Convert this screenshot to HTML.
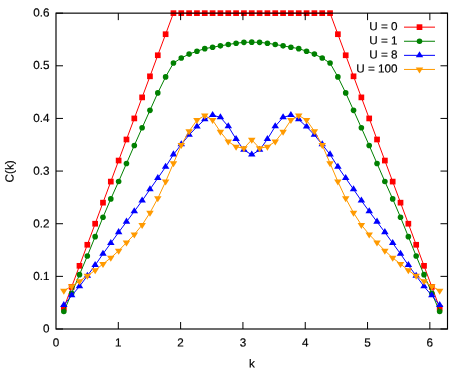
<!DOCTYPE html>
<html><head><meta charset="utf-8"><title>C(k)</title>
<style>html,body{margin:0;padding:0;background:#fff}body{width:467px;height:374px;overflow:hidden}</style>
</head><body>
<svg width="467" height="374" viewBox="0 0 467 374" style="display:block;font-family:'Liberation Sans',sans-serif">
<defs><filter id="b" x="0" y="0" width="467" height="374" filterUnits="userSpaceOnUse"><feGaussianBlur stdDeviation="0.3"/></filter></defs>
<rect width="467" height="374" fill="#fff"/>
<g filter="url(#b)">
<rect width="467" height="374" fill="#fff"/>
<polyline fill="none" stroke="#ff0000" stroke-width="1.0" points="63.83,307.94 71.66,286.89 79.49,265.83 87.32,244.77 95.15,223.72 102.98,202.66 110.81,181.60 118.64,160.55 126.47,139.49 134.30,118.43 142.13,97.38 149.96,76.32 157.79,55.26 165.62,34.21 173.45,13.15 181.28,13.15 189.11,13.15 196.94,13.15 204.77,13.15 212.60,13.15 220.43,13.15 228.26,13.15 236.09,13.15 243.92,13.15 251.75,13.15 259.58,13.15 267.41,13.15 275.24,13.15 283.07,13.15 290.90,13.15 298.73,13.15 306.56,13.15 314.39,13.15 322.22,13.15 330.05,13.15 337.88,34.21 345.71,55.26 353.54,76.32 361.37,97.38 369.20,118.43 377.03,139.49 384.86,160.55 392.69,181.60 400.52,202.66 408.35,223.72 416.18,244.77 424.01,265.83 431.84,286.89 439.67,307.94"/>
<g><rect x="60.98" y="305.09" width="5.70" height="5.70" fill="#ff0000"/><rect x="68.81" y="284.04" width="5.70" height="5.70" fill="#ff0000"/><rect x="76.64" y="262.98" width="5.70" height="5.70" fill="#ff0000"/><rect x="84.47" y="241.92" width="5.70" height="5.70" fill="#ff0000"/><rect x="92.30" y="220.87" width="5.70" height="5.70" fill="#ff0000"/><rect x="100.13" y="199.81" width="5.70" height="5.70" fill="#ff0000"/><rect x="107.96" y="178.75" width="5.70" height="5.70" fill="#ff0000"/><rect x="115.79" y="157.70" width="5.70" height="5.70" fill="#ff0000"/><rect x="123.62" y="136.64" width="5.70" height="5.70" fill="#ff0000"/><rect x="131.45" y="115.58" width="5.70" height="5.70" fill="#ff0000"/><rect x="139.28" y="94.53" width="5.70" height="5.70" fill="#ff0000"/><rect x="147.11" y="73.47" width="5.70" height="5.70" fill="#ff0000"/><rect x="154.94" y="52.41" width="5.70" height="5.70" fill="#ff0000"/><rect x="162.77" y="31.36" width="5.70" height="5.70" fill="#ff0000"/><rect x="170.60" y="10.30" width="5.70" height="5.70" fill="#ff0000"/><rect x="178.43" y="10.30" width="5.70" height="5.70" fill="#ff0000"/><rect x="186.26" y="10.30" width="5.70" height="5.70" fill="#ff0000"/><rect x="194.09" y="10.30" width="5.70" height="5.70" fill="#ff0000"/><rect x="201.92" y="10.30" width="5.70" height="5.70" fill="#ff0000"/><rect x="209.75" y="10.30" width="5.70" height="5.70" fill="#ff0000"/><rect x="217.58" y="10.30" width="5.70" height="5.70" fill="#ff0000"/><rect x="225.41" y="10.30" width="5.70" height="5.70" fill="#ff0000"/><rect x="233.24" y="10.30" width="5.70" height="5.70" fill="#ff0000"/><rect x="241.07" y="10.30" width="5.70" height="5.70" fill="#ff0000"/><rect x="248.90" y="10.30" width="5.70" height="5.70" fill="#ff0000"/><rect x="256.73" y="10.30" width="5.70" height="5.70" fill="#ff0000"/><rect x="264.56" y="10.30" width="5.70" height="5.70" fill="#ff0000"/><rect x="272.39" y="10.30" width="5.70" height="5.70" fill="#ff0000"/><rect x="280.22" y="10.30" width="5.70" height="5.70" fill="#ff0000"/><rect x="288.05" y="10.30" width="5.70" height="5.70" fill="#ff0000"/><rect x="295.88" y="10.30" width="5.70" height="5.70" fill="#ff0000"/><rect x="303.71" y="10.30" width="5.70" height="5.70" fill="#ff0000"/><rect x="311.54" y="10.30" width="5.70" height="5.70" fill="#ff0000"/><rect x="319.37" y="10.30" width="5.70" height="5.70" fill="#ff0000"/><rect x="327.20" y="10.30" width="5.70" height="5.70" fill="#ff0000"/><rect x="335.03" y="31.36" width="5.70" height="5.70" fill="#ff0000"/><rect x="342.86" y="52.41" width="5.70" height="5.70" fill="#ff0000"/><rect x="350.69" y="73.47" width="5.70" height="5.70" fill="#ff0000"/><rect x="358.52" y="94.53" width="5.70" height="5.70" fill="#ff0000"/><rect x="366.35" y="115.58" width="5.70" height="5.70" fill="#ff0000"/><rect x="374.18" y="136.64" width="5.70" height="5.70" fill="#ff0000"/><rect x="382.01" y="157.70" width="5.70" height="5.70" fill="#ff0000"/><rect x="389.84" y="178.75" width="5.70" height="5.70" fill="#ff0000"/><rect x="397.67" y="199.81" width="5.70" height="5.70" fill="#ff0000"/><rect x="405.50" y="220.87" width="5.70" height="5.70" fill="#ff0000"/><rect x="413.33" y="241.92" width="5.70" height="5.70" fill="#ff0000"/><rect x="421.16" y="262.98" width="5.70" height="5.70" fill="#ff0000"/><rect x="428.99" y="284.04" width="5.70" height="5.70" fill="#ff0000"/><rect x="436.82" y="305.09" width="5.70" height="5.70" fill="#ff0000"/></g>
<polyline fill="none" stroke="#008000" stroke-width="1.0" points="63.83,311.52 71.66,293.20 79.49,274.67 87.32,256.04 95.15,236.67 102.98,217.29 110.81,198.92 118.64,181.50 126.47,163.49 134.30,145.44 142.13,127.80 149.96,110.33 157.79,92.90 165.62,76.90 173.45,63.05 181.28,58.05 189.11,54.11 196.94,51.21 204.77,48.63 212.60,47.26 220.43,45.84 228.26,44.52 236.09,43.21 243.92,42.37 251.75,42.16 259.58,42.37 267.41,43.21 275.24,44.52 283.07,45.84 290.90,47.26 298.73,48.63 306.56,51.21 314.39,54.11 322.22,58.05 330.05,63.05 337.88,76.90 345.71,92.90 353.54,110.33 361.37,127.80 369.20,145.44 377.03,163.49 384.86,181.50 392.69,198.92 400.52,217.29 408.35,236.67 416.18,256.04 424.01,274.67 431.84,293.20 439.67,311.52"/>
<g><circle cx="63.83" cy="311.52" r="2.8" fill="#008000"/><circle cx="71.66" cy="293.20" r="2.8" fill="#008000"/><circle cx="79.49" cy="274.67" r="2.8" fill="#008000"/><circle cx="87.32" cy="256.04" r="2.8" fill="#008000"/><circle cx="95.15" cy="236.67" r="2.8" fill="#008000"/><circle cx="102.98" cy="217.29" r="2.8" fill="#008000"/><circle cx="110.81" cy="198.92" r="2.8" fill="#008000"/><circle cx="118.64" cy="181.50" r="2.8" fill="#008000"/><circle cx="126.47" cy="163.49" r="2.8" fill="#008000"/><circle cx="134.30" cy="145.44" r="2.8" fill="#008000"/><circle cx="142.13" cy="127.80" r="2.8" fill="#008000"/><circle cx="149.96" cy="110.33" r="2.8" fill="#008000"/><circle cx="157.79" cy="92.90" r="2.8" fill="#008000"/><circle cx="165.62" cy="76.90" r="2.8" fill="#008000"/><circle cx="173.45" cy="63.05" r="2.8" fill="#008000"/><circle cx="181.28" cy="58.05" r="2.8" fill="#008000"/><circle cx="189.11" cy="54.11" r="2.8" fill="#008000"/><circle cx="196.94" cy="51.21" r="2.8" fill="#008000"/><circle cx="204.77" cy="48.63" r="2.8" fill="#008000"/><circle cx="212.60" cy="47.26" r="2.8" fill="#008000"/><circle cx="220.43" cy="45.84" r="2.8" fill="#008000"/><circle cx="228.26" cy="44.52" r="2.8" fill="#008000"/><circle cx="236.09" cy="43.21" r="2.8" fill="#008000"/><circle cx="243.92" cy="42.37" r="2.8" fill="#008000"/><circle cx="251.75" cy="42.16" r="2.8" fill="#008000"/><circle cx="259.58" cy="42.37" r="2.8" fill="#008000"/><circle cx="267.41" cy="43.21" r="2.8" fill="#008000"/><circle cx="275.24" cy="44.52" r="2.8" fill="#008000"/><circle cx="283.07" cy="45.84" r="2.8" fill="#008000"/><circle cx="290.90" cy="47.26" r="2.8" fill="#008000"/><circle cx="298.73" cy="48.63" r="2.8" fill="#008000"/><circle cx="306.56" cy="51.21" r="2.8" fill="#008000"/><circle cx="314.39" cy="54.11" r="2.8" fill="#008000"/><circle cx="322.22" cy="58.05" r="2.8" fill="#008000"/><circle cx="330.05" cy="63.05" r="2.8" fill="#008000"/><circle cx="337.88" cy="76.90" r="2.8" fill="#008000"/><circle cx="345.71" cy="92.90" r="2.8" fill="#008000"/><circle cx="353.54" cy="110.33" r="2.8" fill="#008000"/><circle cx="361.37" cy="127.80" r="2.8" fill="#008000"/><circle cx="369.20" cy="145.44" r="2.8" fill="#008000"/><circle cx="377.03" cy="163.49" r="2.8" fill="#008000"/><circle cx="384.86" cy="181.50" r="2.8" fill="#008000"/><circle cx="392.69" cy="198.92" r="2.8" fill="#008000"/><circle cx="400.52" cy="217.29" r="2.8" fill="#008000"/><circle cx="408.35" cy="236.67" r="2.8" fill="#008000"/><circle cx="416.18" cy="256.04" r="2.8" fill="#008000"/><circle cx="424.01" cy="274.67" r="2.8" fill="#008000"/><circle cx="431.84" cy="293.20" r="2.8" fill="#008000"/><circle cx="439.67" cy="311.52" r="2.8" fill="#008000"/></g>
<polyline fill="none" stroke="#0000ff" stroke-width="1.0" points="63.83,305.10 71.66,295.52 79.49,286.41 87.32,275.83 95.15,265.20 102.98,253.88 110.81,243.14 118.64,232.30 126.47,221.82 134.30,211.35 142.13,200.71 149.96,189.34 157.79,178.18 165.62,166.86 173.45,154.55 181.28,144.49 189.11,134.91 196.94,126.75 204.77,119.49 212.60,115.17 220.43,117.38 228.26,126.33 236.09,139.12 243.92,150.02 251.75,154.76 259.58,150.02 267.41,139.12 275.24,126.33 283.07,117.38 290.90,115.17 298.73,119.49 306.56,126.75 314.39,134.91 322.22,144.49 330.05,154.55 337.88,166.86 345.71,178.18 353.54,189.34 361.37,200.71 369.20,211.35 377.03,221.82 384.86,232.30 392.69,243.14 400.52,253.88 408.35,265.20 416.18,275.83 424.01,286.41 431.84,295.52 439.67,305.10"/>
<g><path d="M60.08 306.95L67.58 306.95L63.83 300.90Z" fill="#0000ff"/><path d="M67.91 297.37L75.41 297.37L71.66 291.32Z" fill="#0000ff"/><path d="M75.74 288.26L83.24 288.26L79.49 282.21Z" fill="#0000ff"/><path d="M83.57 277.68L91.07 277.68L87.32 271.63Z" fill="#0000ff"/><path d="M91.40 267.05L98.90 267.05L95.15 261.00Z" fill="#0000ff"/><path d="M99.23 255.73L106.73 255.73L102.98 249.68Z" fill="#0000ff"/><path d="M107.06 244.99L114.56 244.99L110.81 238.94Z" fill="#0000ff"/><path d="M114.89 234.15L122.39 234.15L118.64 228.10Z" fill="#0000ff"/><path d="M122.72 223.67L130.22 223.67L126.47 217.62Z" fill="#0000ff"/><path d="M130.55 213.20L138.05 213.20L134.30 207.15Z" fill="#0000ff"/><path d="M138.38 202.56L145.88 202.56L142.13 196.51Z" fill="#0000ff"/><path d="M146.21 191.19L153.71 191.19L149.96 185.14Z" fill="#0000ff"/><path d="M154.04 180.03L161.54 180.03L157.79 173.98Z" fill="#0000ff"/><path d="M161.87 168.71L169.37 168.71L165.62 162.66Z" fill="#0000ff"/><path d="M169.70 156.40L177.20 156.40L173.45 150.35Z" fill="#0000ff"/><path d="M177.53 146.34L185.03 146.34L181.28 140.29Z" fill="#0000ff"/><path d="M185.36 136.76L192.86 136.76L189.11 130.71Z" fill="#0000ff"/><path d="M193.19 128.60L200.69 128.60L196.94 122.55Z" fill="#0000ff"/><path d="M201.02 121.34L208.52 121.34L204.77 115.29Z" fill="#0000ff"/><path d="M208.85 117.02L216.35 117.02L212.60 110.97Z" fill="#0000ff"/><path d="M216.68 119.23L224.18 119.23L220.43 113.18Z" fill="#0000ff"/><path d="M224.51 128.18L232.01 128.18L228.26 122.13Z" fill="#0000ff"/><path d="M232.34 140.97L239.84 140.97L236.09 134.92Z" fill="#0000ff"/><path d="M240.17 151.87L247.67 151.87L243.92 145.82Z" fill="#0000ff"/><path d="M248.00 156.61L255.50 156.61L251.75 150.56Z" fill="#0000ff"/><path d="M255.83 151.87L263.33 151.87L259.58 145.82Z" fill="#0000ff"/><path d="M263.66 140.97L271.16 140.97L267.41 134.92Z" fill="#0000ff"/><path d="M271.49 128.18L278.99 128.18L275.24 122.13Z" fill="#0000ff"/><path d="M279.32 119.23L286.82 119.23L283.07 113.18Z" fill="#0000ff"/><path d="M287.15 117.02L294.65 117.02L290.90 110.97Z" fill="#0000ff"/><path d="M294.98 121.34L302.48 121.34L298.73 115.29Z" fill="#0000ff"/><path d="M302.81 128.60L310.31 128.60L306.56 122.55Z" fill="#0000ff"/><path d="M310.64 136.76L318.14 136.76L314.39 130.71Z" fill="#0000ff"/><path d="M318.47 146.34L325.97 146.34L322.22 140.29Z" fill="#0000ff"/><path d="M326.30 156.40L333.80 156.40L330.05 150.35Z" fill="#0000ff"/><path d="M334.13 168.71L341.63 168.71L337.88 162.66Z" fill="#0000ff"/><path d="M341.96 180.03L349.46 180.03L345.71 173.98Z" fill="#0000ff"/><path d="M349.79 191.19L357.29 191.19L353.54 185.14Z" fill="#0000ff"/><path d="M357.62 202.56L365.12 202.56L361.37 196.51Z" fill="#0000ff"/><path d="M365.45 213.20L372.95 213.20L369.20 207.15Z" fill="#0000ff"/><path d="M373.28 223.67L380.78 223.67L377.03 217.62Z" fill="#0000ff"/><path d="M381.11 234.15L388.61 234.15L384.86 228.10Z" fill="#0000ff"/><path d="M388.94 244.99L396.44 244.99L392.69 238.94Z" fill="#0000ff"/><path d="M396.77 255.73L404.27 255.73L400.52 249.68Z" fill="#0000ff"/><path d="M404.60 267.05L412.10 267.05L408.35 261.00Z" fill="#0000ff"/><path d="M412.43 277.68L419.93 277.68L416.18 271.63Z" fill="#0000ff"/><path d="M420.26 288.26L427.76 288.26L424.01 282.21Z" fill="#0000ff"/><path d="M428.09 297.37L435.59 297.37L431.84 291.32Z" fill="#0000ff"/><path d="M435.92 306.95L443.42 306.95L439.67 300.90Z" fill="#0000ff"/></g>
<polyline fill="none" stroke="#ff9a00" stroke-width="1.0" points="63.83,290.73 71.66,286.20 79.49,281.20 87.32,275.88 95.15,270.30 102.98,263.99 110.81,257.88 118.64,250.72 126.47,242.62 134.30,234.51 142.13,224.93 149.96,212.77 157.79,198.40 165.62,181.60 173.45,163.28 181.28,145.02 189.11,131.23 196.94,120.12 204.77,115.49 212.60,120.17 220.43,131.86 228.26,141.54 236.09,146.75 243.92,148.28 251.75,139.81 259.58,148.28 267.41,146.75 275.24,141.54 283.07,131.86 290.90,120.17 298.73,115.49 306.56,120.12 314.39,131.23 322.22,145.02 330.05,163.28 337.88,181.60 345.71,198.40 353.54,212.77 361.37,224.93 369.20,234.51 377.03,242.62 384.86,250.72 392.69,257.88 400.52,263.99 408.35,270.30 416.18,275.88 424.01,281.20 431.84,286.20 439.67,290.73"/>
<g><path d="M60.08 288.68L67.58 288.68L63.83 294.68Z" fill="#ff9a00"/><path d="M67.91 284.15L75.41 284.15L71.66 290.15Z" fill="#ff9a00"/><path d="M75.74 279.15L83.24 279.15L79.49 285.15Z" fill="#ff9a00"/><path d="M83.57 273.83L91.07 273.83L87.32 279.83Z" fill="#ff9a00"/><path d="M91.40 268.25L98.90 268.25L95.15 274.25Z" fill="#ff9a00"/><path d="M99.23 261.94L106.73 261.94L102.98 267.94Z" fill="#ff9a00"/><path d="M107.06 255.83L114.56 255.83L110.81 261.83Z" fill="#ff9a00"/><path d="M114.89 248.67L122.39 248.67L118.64 254.67Z" fill="#ff9a00"/><path d="M122.72 240.57L130.22 240.57L126.47 246.57Z" fill="#ff9a00"/><path d="M130.55 232.46L138.05 232.46L134.30 238.46Z" fill="#ff9a00"/><path d="M138.38 222.88L145.88 222.88L142.13 228.88Z" fill="#ff9a00"/><path d="M146.21 210.72L153.71 210.72L149.96 216.72Z" fill="#ff9a00"/><path d="M154.04 196.35L161.54 196.35L157.79 202.35Z" fill="#ff9a00"/><path d="M161.87 179.55L169.37 179.55L165.62 185.55Z" fill="#ff9a00"/><path d="M169.70 161.23L177.20 161.23L173.45 167.23Z" fill="#ff9a00"/><path d="M177.53 142.97L185.03 142.97L181.28 148.97Z" fill="#ff9a00"/><path d="M185.36 129.18L192.86 129.18L189.11 135.18Z" fill="#ff9a00"/><path d="M193.19 118.07L200.69 118.07L196.94 124.07Z" fill="#ff9a00"/><path d="M201.02 113.44L208.52 113.44L204.77 119.44Z" fill="#ff9a00"/><path d="M208.85 118.12L216.35 118.12L212.60 124.12Z" fill="#ff9a00"/><path d="M216.68 129.81L224.18 129.81L220.43 135.81Z" fill="#ff9a00"/><path d="M224.51 139.49L232.01 139.49L228.26 145.49Z" fill="#ff9a00"/><path d="M232.34 144.70L239.84 144.70L236.09 150.70Z" fill="#ff9a00"/><path d="M240.17 146.23L247.67 146.23L243.92 152.23Z" fill="#ff9a00"/><path d="M248.00 137.76L255.50 137.76L251.75 143.76Z" fill="#ff9a00"/><path d="M255.83 146.23L263.33 146.23L259.58 152.23Z" fill="#ff9a00"/><path d="M263.66 144.70L271.16 144.70L267.41 150.70Z" fill="#ff9a00"/><path d="M271.49 139.49L278.99 139.49L275.24 145.49Z" fill="#ff9a00"/><path d="M279.32 129.81L286.82 129.81L283.07 135.81Z" fill="#ff9a00"/><path d="M287.15 118.12L294.65 118.12L290.90 124.12Z" fill="#ff9a00"/><path d="M294.98 113.44L302.48 113.44L298.73 119.44Z" fill="#ff9a00"/><path d="M302.81 118.07L310.31 118.07L306.56 124.07Z" fill="#ff9a00"/><path d="M310.64 129.18L318.14 129.18L314.39 135.18Z" fill="#ff9a00"/><path d="M318.47 142.97L325.97 142.97L322.22 148.97Z" fill="#ff9a00"/><path d="M326.30 161.23L333.80 161.23L330.05 167.23Z" fill="#ff9a00"/><path d="M334.13 179.55L341.63 179.55L337.88 185.55Z" fill="#ff9a00"/><path d="M341.96 196.35L349.46 196.35L345.71 202.35Z" fill="#ff9a00"/><path d="M349.79 210.72L357.29 210.72L353.54 216.72Z" fill="#ff9a00"/><path d="M357.62 222.88L365.12 222.88L361.37 228.88Z" fill="#ff9a00"/><path d="M365.45 232.46L372.95 232.46L369.20 238.46Z" fill="#ff9a00"/><path d="M373.28 240.57L380.78 240.57L377.03 246.57Z" fill="#ff9a00"/><path d="M381.11 248.67L388.61 248.67L384.86 254.67Z" fill="#ff9a00"/><path d="M388.94 255.83L396.44 255.83L392.69 261.83Z" fill="#ff9a00"/><path d="M396.77 261.94L404.27 261.94L400.52 267.94Z" fill="#ff9a00"/><path d="M404.60 268.25L412.10 268.25L408.35 274.25Z" fill="#ff9a00"/><path d="M412.43 273.83L419.93 273.83L416.18 279.83Z" fill="#ff9a00"/><path d="M420.26 279.15L427.76 279.15L424.01 285.15Z" fill="#ff9a00"/><path d="M428.09 284.15L435.59 284.15L431.84 290.15Z" fill="#ff9a00"/><path d="M435.92 288.68L443.42 288.68L439.67 294.68Z" fill="#ff9a00"/></g>
<line x1="404" y1="27.15" x2="435" y2="27.15" stroke="#ff0000" stroke-width="1.0"/>
<rect x="416.65" y="24.30" width="5.70" height="5.70" fill="#ff0000"/>
<line x1="404" y1="41.25" x2="435" y2="41.25" stroke="#008000" stroke-width="1.0"/>
<circle cx="419.50" cy="41.25" r="2.8" fill="#008000"/>
<line x1="404" y1="55.35" x2="435" y2="55.35" stroke="#0000ff" stroke-width="1.0"/>
<path d="M415.75 57.20L423.25 57.20L419.50 51.15Z" fill="#0000ff"/>
<line x1="404" y1="69.45" x2="435" y2="69.45" stroke="#ff9a00" stroke-width="1.0"/>
<path d="M415.75 67.40L423.25 67.40L419.50 73.40Z" fill="#ff9a00"/>
<path d="M118.31 329.0V322.0M118.31 13.15V20.15M180.62 329.0V322.0M180.62 13.15V20.15M242.93 329.0V322.0M242.93 13.15V20.15M305.24 329.0V322.0M305.24 13.15V20.15M367.55 329.0V322.0M367.55 13.15V20.15M429.85 329.0V322.0M429.85 13.15V20.15M56.0 329.00H63.0M447.5 329.00H440.5M56.0 276.36H63.0M447.5 276.36H440.5M56.0 223.72H63.0M447.5 223.72H440.5M56.0 171.07H63.0M447.5 171.07H440.5M56.0 118.43H63.0M447.5 118.43H440.5M56.0 65.79H63.0M447.5 65.79H440.5M56.0 13.15H63.0M447.5 13.15H440.5" stroke="#000" stroke-width="1" fill="none"/>
<rect x="56.0" y="13.15" width="391.5" height="315.85" fill="none" stroke="#000" stroke-width="1.15"/>
<text x="49.40" y="332.55" font-size="11.7" text-anchor="end" fill="#000" stroke="#000" stroke-width="0.18" transform="rotate(0.05 49.40 332.55)">0</text>
<text x="49.40" y="279.91" font-size="11.7" text-anchor="end" fill="#000" stroke="#000" stroke-width="0.18" transform="rotate(0.05 49.40 279.91)">0.1</text>
<text x="49.40" y="227.47" font-size="11.7" text-anchor="end" fill="#000" stroke="#000" stroke-width="0.18" transform="rotate(0.05 49.40 227.47)">0.2</text>
<text x="49.40" y="174.67" font-size="11.7" text-anchor="end" fill="#000" stroke="#000" stroke-width="0.18" transform="rotate(0.05 49.40 174.67)">0.3</text>
<text x="49.40" y="121.98" font-size="11.7" text-anchor="end" fill="#000" stroke="#000" stroke-width="0.18" transform="rotate(0.05 49.40 121.98)">0.4</text>
<text x="49.40" y="69.09" font-size="11.7" text-anchor="end" fill="#000" stroke="#000" stroke-width="0.18" transform="rotate(0.05 49.40 69.09)">0.5</text>
<text x="49.40" y="16.60" font-size="11.7" text-anchor="end" fill="#000" stroke="#000" stroke-width="0.18" transform="rotate(0.05 49.40 16.60)">0.6</text>
<text x="56.00" y="346.50" font-size="11.7" text-anchor="middle" fill="#000" stroke="#000" stroke-width="0.18" transform="rotate(0.05 56.00 346.50)">0</text>
<text x="118.31" y="346.50" font-size="11.7" text-anchor="middle" fill="#000" stroke="#000" stroke-width="0.18" transform="rotate(0.05 118.31 346.50)">1</text>
<text x="180.62" y="346.50" font-size="11.7" text-anchor="middle" fill="#000" stroke="#000" stroke-width="0.18" transform="rotate(0.05 180.62 346.50)">2</text>
<text x="242.93" y="346.50" font-size="11.7" text-anchor="middle" fill="#000" stroke="#000" stroke-width="0.18" transform="rotate(0.05 242.93 346.50)">3</text>
<text x="305.24" y="346.50" font-size="11.7" text-anchor="middle" fill="#000" stroke="#000" stroke-width="0.18" transform="rotate(0.05 305.24 346.50)">4</text>
<text x="367.55" y="346.50" font-size="11.7" text-anchor="middle" fill="#000" stroke="#000" stroke-width="0.18" transform="rotate(0.05 367.55 346.50)">5</text>
<text x="429.85" y="346.50" font-size="11.7" text-anchor="middle" fill="#000" stroke="#000" stroke-width="0.18" transform="rotate(0.05 429.85 346.50)">6</text>
<text x="252.00" y="367.50" font-size="11.7" text-anchor="middle" fill="#000" stroke="#000" stroke-width="0.18" transform="rotate(0.05 252.00 367.50)">k</text>
<g transform="translate(13.6,171.4) rotate(-90)"><text x="0.00" y="0.00" font-size="11.7" text-anchor="middle" fill="#000" stroke="#000" stroke-width="0.18" transform="rotate(0.05 0.00 0.00)">C(k)</text></g>
<text x="397.50" y="30.30" font-size="11.7" text-anchor="end" fill="#000" stroke="#000" stroke-width="0.18" transform="rotate(0.05 397.50 30.30)">U = 0</text>
<text x="397.50" y="44.40" font-size="11.7" text-anchor="end" fill="#000" stroke="#000" stroke-width="0.18" transform="rotate(0.05 397.50 44.40)">U = 1</text>
<text x="397.50" y="58.50" font-size="11.7" text-anchor="end" fill="#000" stroke="#000" stroke-width="0.18" transform="rotate(0.05 397.50 58.50)">U = 8</text>
<text x="397.50" y="72.60" font-size="11.7" text-anchor="end" fill="#000" stroke="#000" stroke-width="0.18" transform="rotate(0.05 397.50 72.60)">U = 100</text>
</g></svg>
</body></html>
